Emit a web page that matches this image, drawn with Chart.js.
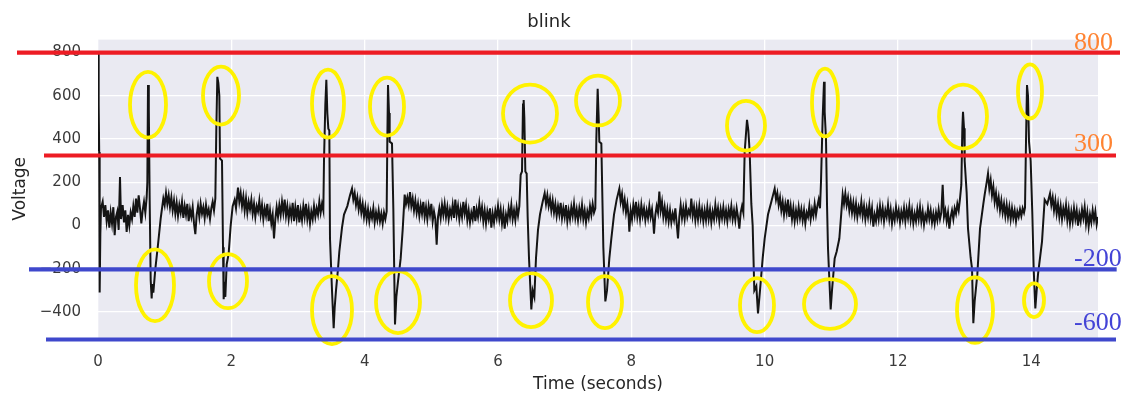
<!DOCTYPE html>
<html><head><meta charset="utf-8">
<script src="https://cdn.jsdelivr.net/npm/chart.js@4.4.0/dist/chart.umd.min.js"></script>
<style>html,body{margin:0;padding:0;background:#fff;}</style>
</head><body>
<canvas id="c" width="1126" height="394"></canvas>
<script>
// ---- Data: [time (s), voltage] ----
const samples = [
[0,350],[0.008,800],[0.012,560],[0.018,340],[0.025,-310],[0.035,-40],[0.045,80],[0.07,110],[0.09,40],[0.11,95],[0.13,20],[0.15,70],[0.17,-10],[0.19,60],[0.21,10],[0.23,85],[0.25,-45],[0.27,40],[0.29,65],[0.31,-20],[0.33,225],[0.345,30],[0.37,95],[0.39,15],[0.41,70],[0.43,-30],[0.45,50],[0.47,0],[0.49,60],[0.51,30],[0.53,90],[0.55,40],[0.57,125],[0.59,60],[0.61,140],[0.63,80],[0.65,10],[0.67,70],[0.69,110],[0.71,60],[0.73,130],
[0.74,200],[0.75,650],[0.762,540],[0.775,120],[0.79,-250],[0.805,-337],[0.815,-270],[0.83,-310],[0.86,-200],[0.9,-88],[0.94,32],[0.98,125],[1.0,95],[1.02,150],
[1.04,100],[1.06,140],[1.08,85],[1.1,130],[1.12,70],[1.14,115],[1.16,55],[1.18,105],[1.2,45],[1.22,95],[1.24,60],[1.26,110],[1.28,35],[1.3,90],[1.32,50],[1.34,100],[1.36,20],[1.38,75],[1.4,40],[1.42,85],[1.44,10],[1.46,-40],[1.48,50],[1.5,90],[1.52,40],[1.54,100],[1.56,55],[1.58,85],[1.6,35],[1.62,95],[1.64,50],[1.66,75],[1.68,30],[1.7,80],[1.72,110],[1.74,70],[1.76,125],
[1.775,448],[1.79,688],[1.805,660],[1.82,600],[1.83,310],[1.86,300],[1.875,-100],[1.885,-341],[1.9,-260],[1.91,-330],[1.93,-180],[1.96,-130],[1.99,0],[2.02,90],[2.05,120],[2.07,80],[2.1,175],[2.12,110],[2.14,150],
[2.16,90],[2.18,135],[2.2,70],[2.22,125],[2.24,60],[2.26,110],[2.28,75],[2.3,120],[2.32,55],[2.34,100],[2.36,40],[2.38,90],[2.4,65],[2.42,115],[2.44,50],[2.46,95],[2.48,30],[2.5,80],[2.52,45],[2.54,100],[2.56,20],[2.58,70],[2.6,10],[2.62,50],[2.64,-60],[2.66,30],[2.68,85],[2.7,40],[2.72,95],[2.74,50],[2.76,110],[2.78,60],[2.8,120],[2.82,45],[2.84,90],[2.86,30],[2.88,80],[2.9,40],[2.92,105],[2.94,20],[2.96,85],[2.98,35],[3.0,95],[3.02,15],[3.04,70],[3.06,25],[3.08,90],[3.1,40],[3.12,100],[3.14,30],[3.16,75],[3.18,10],[3.2,65],[3.22,30],[3.24,90],[3.26,40],[3.28,80],[3.3,50],[3.32,110],[3.34,60],[3.36,100],[3.38,70],
[3.39,300],[3.41,560],[3.425,674],[3.44,520],[3.455,448],[3.47,440],[3.48,-60],[3.51,-300],[3.535,-475],[3.55,-380],[3.57,-300],[3.6,-200],[3.62,-120],[3.66,-10],[3.69,51],[3.74,90],[3.78,140],[3.81,171],
[3.83,120],[3.85,150],[3.87,95],[3.89,130],[3.91,75],[3.93,115],[3.95,60],[3.97,100],[3.99,40],[4.01,85],[4.03,30],[4.05,75],[4.07,20],[4.09,65],[4.11,35],[4.13,80],[4.15,15],[4.17,60],[4.19,25],[4.21,70],[4.23,20],[4.25,55],[4.27,10],[4.29,60],[4.31,30],[4.33,65],
[4.34,400],[4.35,650],[4.365,520],[4.375,388],[4.41,380],[4.43,78],[4.455,-457],[4.475,-330],[4.5,-258],[4.54,-152],[4.57,-20],[4.6,143],[4.62,100],
[4.64,130],[4.66,95],[4.68,155],[4.7,90],[4.72,125],[4.74,70],[4.76,115],[4.78,60],[4.8,100],[4.82,45],[4.84,95],[4.86,55],[4.88,110],[4.9,40],[4.92,85],[4.94,30],[4.96,90],[4.98,50],[5.0,100],[5.02,20],[5.04,65],[5.06,30],[5.08,-88],[5.1,40],[5.12,80],[5.14,35],[5.16,95],[5.18,50],[5.2,100],[5.22,40],[5.24,85],[5.26,30],[5.28,75],[5.3,45],[5.32,95],[5.34,35],[5.36,120],[5.38,50],[5.4,90],[5.42,30],[5.44,80],[5.46,40],[5.48,110],[5.5,55],[5.52,95],[5.54,25],[5.56,70],[5.58,15],[5.6,60],[5.62,30],[5.64,90],[5.66,20],[5.68,75],[5.7,40],[5.72,100],[5.74,45],[5.76,85],[5.78,20],[5.8,70],[5.82,10],[5.84,65],[5.86,30],[5.88,80],[5.9,-10],[5.92,55],[5.94,15],[5.96,70],[5.98,35],[6.0,90],[6.02,30],[6.04,75],[6.06,10],[6.08,60],[6.1,-14],[6.12,50],[6.14,20],[6.16,80],[6.18,40],[6.2,95],[6.22,30],[6.24,70],[6.26,25],[6.28,85],[6.3,45],[6.32,90],
[6.34,235],[6.36,250],[6.375,560],[6.385,581],[6.395,500],[6.41,250],[6.43,240],[6.445,40],[6.465,-150],[6.5,-388],[6.52,-300],[6.545,-330],[6.57,-150],[6.6,-20],[6.63,51],[6.67,110],[6.7,150],[6.72,100],
[6.74,140],[6.76,90],[6.78,125],[6.8,70],[6.82,115],[6.84,60],[6.86,100],[6.88,45],[6.9,90],[6.92,50],[6.94,105],[6.96,35],[6.98,80],[7.0,40],[7.02,95],[7.04,20],[7.06,70],[7.08,30],[7.1,85],[7.12,45],[7.14,100],[7.16,35],[7.18,75],[7.2,25],[7.22,80],[7.24,40],[7.26,95],[7.28,30],[7.3,70],[7.32,15],[7.34,65],[7.36,35],[7.38,90],[7.4,50],[7.42,100],[7.44,60],[7.46,80],
[7.475,400],[7.495,632],[7.51,500],[7.52,388],[7.55,380],[7.58,-100],[7.61,-351],[7.635,-300],[7.67,-152],[7.7,-60],[7.74,51],[7.78,120],[7.82,171],
[7.84,110],[7.86,145],[7.88,80],[7.9,120],[7.92,60],[7.94,100],[7.96,40],[7.97,-28],[7.99,70],[8.01,30],[8.03,95],[8.05,50],[8.07,110],[8.09,40],[8.11,85],[8.13,30],[8.15,95],[8.17,45],[8.19,80],[8.21,25],[8.23,70],[8.25,35],[8.27,90],[8.29,40],[8.31,75],[8.33,10],[8.34,-37],[8.36,50],[8.38,90],[8.4,60],[8.42,157],[8.44,70],[8.46,110],[8.48,40],[8.5,85],[8.52,30],[8.54,75],[8.56,20],[8.58,70],[8.6,15],[8.62,55],[8.64,25],[8.66,80],[8.68,10],[8.7,-60],[8.72,40],[8.74,95],[8.76,35],[8.78,80],[8.8,30],[8.82,90],[8.84,40],[8.86,70],[8.88,50],[8.9,125],[8.92,45],[8.94,85],[8.96,25],[8.98,80],[9.0,30],[9.02,90],[9.04,35],[9.06,75],[9.08,20],[9.1,70],[9.12,25],[9.14,85],[9.16,30],[9.18,75],[9.2,15],[9.22,65],[9.24,30],[9.26,95],[9.28,40],[9.3,80],[9.32,20],[9.34,75],[9.36,35],[9.38,85],[9.4,30],[9.42,70],[9.44,20],[9.46,75],[9.48,40],[9.5,90],[9.52,30],[9.54,70],[9.56,25],[9.58,80],[9.6,40],[9.62,-14],[9.64,60],[9.66,90],
[9.68,60],[9.7,340],[9.735,489],[9.755,440],[9.775,340],[9.8,100],[9.82,0],[9.845,-300],[9.875,-280],[9.9,-406],[9.93,-300],[9.97,-152],[10.0,-60],[10.05,51],[10.1,110],[10.15,171],
[10.17,120],[10.19,150],[10.21,95],[10.23,130],[10.25,70],[10.27,110],[10.29,50],[10.31,100],[10.33,60],[10.35,120],[10.37,40],[10.39,90],[10.41,30],[10.43,80],[10.45,20],[10.47,70],[10.49,30],[10.51,85],[10.53,35],[10.55,75],[10.57,25],[10.59,70],[10.61,10],[10.63,60],[10.65,40],[10.67,90],[10.69,30],[10.71,75],[10.73,45],[10.75,100],[10.77,50],[10.79,90],[10.81,120],[10.83,80],
[10.845,203],[10.87,500],[10.89,665],[10.9,526],[10.92,400],[10.935,100],[10.95,-106],[10.99,-388],[11.01,-300],[11.05,-152],[11.08,-120],[11.12,-60],[11.15,60],[11.17,143],[11.19,100],
[11.21,148],[11.23,95],[11.25,130],[11.27,70],[11.29,115],[11.31,60],[11.33,105],[11.35,50],[11.37,100],[11.39,40],[11.41,85],[11.43,55],[11.45,110],[11.47,45],[11.49,90],[11.51,30],[11.53,80],[11.55,40],[11.57,95],[11.59,35],[11.61,80],[11.63,-5],[11.65,50],[11.67,20],[11.69,75],[11.71,30],[11.73,90],[11.75,35],[11.77,80],[11.79,20],[11.81,70],[11.83,40],[11.85,95],[11.87,30],[11.89,75],[11.91,10],[11.93,60],[11.95,25],[11.97,85],[11.99,35],[12.01,70],[12.03,15],[12.05,65],[12.07,30],[12.09,80],[12.11,20],[12.13,75],[12.15,35],[12.17,90],[12.19,25],[12.21,70],[12.23,10],[12.25,55],[12.27,20],[12.29,75],[12.31,30],[12.33,85],[12.35,20],[12.37,65],[12.39,5],[12.41,50],[12.43,25],[12.45,80],[12.47,30],[12.49,70],[12.51,15],[12.53,55],[12.55,10],[12.57,60],[12.59,25],[12.61,75],[12.63,30],[12.65,60],[12.67,189],[12.69,40],[12.71,70],[12.73,20],[12.75,60],[12.77,-14],[12.79,40],[12.81,70],[12.83,30],[12.85,80],[12.87,55],[12.89,100],[12.91,70],[12.93,125],
[12.95,189],[12.965,450],[12.975,526],[12.99,450],[13.0,300],[13.03,150],[13.05,-14],[13.09,-150],[13.11,-198],[13.13,-452],[13.15,-350],[13.19,-226],[13.23,-14],[13.28,100],[13.3,143],[13.33,200],[13.35,240],[13.37,170],[13.39,210],[13.41,140],[13.43,180],[13.45,110],[13.47,150],[13.49,90],[13.51,130],[13.53,70],[13.55,115],[13.57,60],[13.59,100],[13.61,45],[13.63,95],[13.65,40],[13.67,85],[13.69,30],[13.71,80],[13.73,35],[13.75,70],[13.77,20],[13.79,65],[13.81,40],[13.83,75],[13.85,45],[13.87,80],[13.89,60],
[13.905,83],[13.92,388],[13.935,650],[13.95,600],[13.965,388],[13.99,300],[14.0,203],[14.015,51],[14.035,-200],[14.06,-383],[14.08,-300],[14.1,-226],[14.16,-74],[14.2,120],[14.24,100],[14.28,148],
[14.3,95],[14.32,130],[14.34,70],[14.36,115],[14.38,55],[14.4,100],[14.42,40],[14.44,90],[14.46,30],[14.48,80],[14.5,45],[14.52,95],[14.54,25],[14.56,75],[14.58,10],[14.6,65],[14.62,20],[14.64,80],[14.66,30],[14.68,70],[14.7,0],[14.72,55],[14.74,20],[14.76,75],[14.78,35],[14.8,85],[14.82,10],[14.84,60],[14.86,-5],[14.88,50],[14.9,15],[14.92,70],[14.94,25],[14.96,65],[14.98,5],[15.0,40]
];

const xTicks = [0, 2, 4, 6, 8, 10, 12, 14];
const yTicks = [-400, -200, 0, 200, 400, 600, 800];

// Hand-drawn annotations, in data units: [centre time, centre voltage, half-width (s), half-height (V)]
const peakCircles = [
  [0.75,559,0.27,152],[1.845,601,0.27,134],[3.45,564,0.24,157],[4.335,550,0.255,134],[6.48,518,0.405,134],
  [7.5,578,0.33,115],[9.72,462,0.285,115],[10.905,569,0.195,157],[12.975,504,0.36,148],[13.98,620,0.18,125]
];
const troughCircles = [
  [0.855,-276,0.285,166],[1.95,-257,0.285,125],[3.51,-391,0.30,157],[4.5,-354,0.33,143],[6.495,-345,0.315,125],
  [7.605,-354,0.255,120],[9.885,-368,0.255,125],[10.98,-363,0.39,115],[13.155,-391,0.27,152],[14.04,-345,0.15,78]
];
// Threshold lines: [voltage, from time, to time, colour]
const thresholdLines = [
  [800, -1.215, 15.33, '#ED1C24'],
  [324, -0.81, 15.27, '#ED1C24'],
  [-203, -1.035, 15.28, '#3F48CC'],
  [-527, -0.78, 15.27, '#3F48CC']
];
// Threshold labels: [text, time, baseline voltage, colour]
const thresholdLabels = [
  ['800', 14.64, 814, '#FF8433'],
  ['300', 14.64, 347, '#FF8433'],
  ['-200', 14.64, -188, '#4343D6'],
  ['-600', 14.64, -483, '#4343D6']
];

const bgPlugin = {
  id: 'bg',
  beforeDraw(chart) {
    const {ctx, chartArea: a} = chart;
    ctx.save();
    ctx.fillStyle = '#EAEAF2';
    ctx.fillRect(a.left, a.top, a.right - a.left, a.bottom - a.top);
    ctx.restore();
  }
};

const overlayPlugin = {
  id: 'overlay',
  afterDraw(chart) {
    const {ctx, scales: {x, y}} = chart;
    ctx.save();
    ctx.strokeStyle = '#FFF200';
    ctx.lineWidth = 3.8;
    for (const [t, v, rt, rv] of peakCircles.concat(troughCircles)) {
      const cx = x.getPixelForValue(t), cy = y.getPixelForValue(v);
      const rx = Math.abs(x.getPixelForValue(t + rt) - cx);
      const ry = Math.abs(y.getPixelForValue(v + rv) - cy);
      ctx.beginPath();
      ctx.ellipse(cx, cy, rx, ry, 0, 0, Math.PI * 2);
      ctx.stroke();
    }
    ctx.lineWidth = 4.2;
    for (const [v, t0, t1, c] of thresholdLines) {
      const py = y.getPixelForValue(v);
      ctx.strokeStyle = c;
      ctx.beginPath();
      ctx.moveTo(x.getPixelForValue(t0), py);
      ctx.lineTo(x.getPixelForValue(t1), py);
      ctx.stroke();
    }
    ctx.font = '26px "Liberation Serif"';
    ctx.textAlign = 'left';
    ctx.textBaseline = 'alphabetic';
    for (const [txt, t, v, c] of thresholdLabels) {
      ctx.fillStyle = c;
      ctx.fillText(txt, x.getPixelForValue(t), y.getPixelForValue(v));
    }
    ctx.restore();
  }
};

const tickFont = {family: '"DejaVu Sans"', size: 15};
const fmt = v => (v < 0 ? '\u2212' + Math.abs(v) : String(v));

new Chart(document.getElementById('c'), {
  type: 'line',
  data: {
    datasets: [{
      data: samples.map(([t, v]) => ({x: t, y: v})),
      borderColor: '#141414',
      borderWidth: 2,
      pointRadius: 0,
      tension: 0,
      fill: false
    }]
  },
  options: {
    responsive: false,
    animation: false,
    devicePixelRatio: 1,
    layout: {padding: {left: 0, right: 28, top: 0, bottom: 0}},
    plugins: {
      legend: {display: false},
      tooltip: {enabled: false},
      title: {
        display: true, text: 'blink', color: '#262626',
        font: {family: '"DejaVu Sans"', size: 18, weight: 'normal'},
        padding: {top: 12, bottom: 6}
      }
    },
    scales: {
      x: {
        type: 'linear', min: 0, max: 15,
        afterFit(s) { s.height = 56; },
        afterBuildTicks(s) { s.ticks = xTicks.map(v => ({value: v})); },
        grid: {color: '#FFFFFF', lineWidth: 1.3, drawTicks: false},
        border: {display: false},
        ticks: {color: '#3a3a3a', font: tickFont, padding: 15, callback: fmt, maxRotation: 0, autoSkip: false},
        title: {display: true, text: 'Time (seconds)', color: '#262626', font: {family: '"DejaVu Sans"', size: 17}, padding: {top: 0, bottom: -1}}
      },
      y: {
        type: 'linear', min: -520, max: 860,
        afterFit(s) { s.width = 98; },
        afterBuildTicks(s) { s.ticks = yTicks.map(v => ({value: v})); },
        grid: {color: '#FFFFFF', lineWidth: 1.3, drawTicks: false},
        border: {display: false},
        ticks: {color: '#3a3a3a', font: tickFont, padding: 17, callback: fmt, autoSkip: false},
        title: {display: true, text: 'Voltage', color: '#262626', font: {family: '"DejaVu Sans"', size: 17}, padding: {top: 10, bottom: 0}}
      }
    }
  },
  plugins: [bgPlugin, overlayPlugin]
});
</script>
</body></html>
